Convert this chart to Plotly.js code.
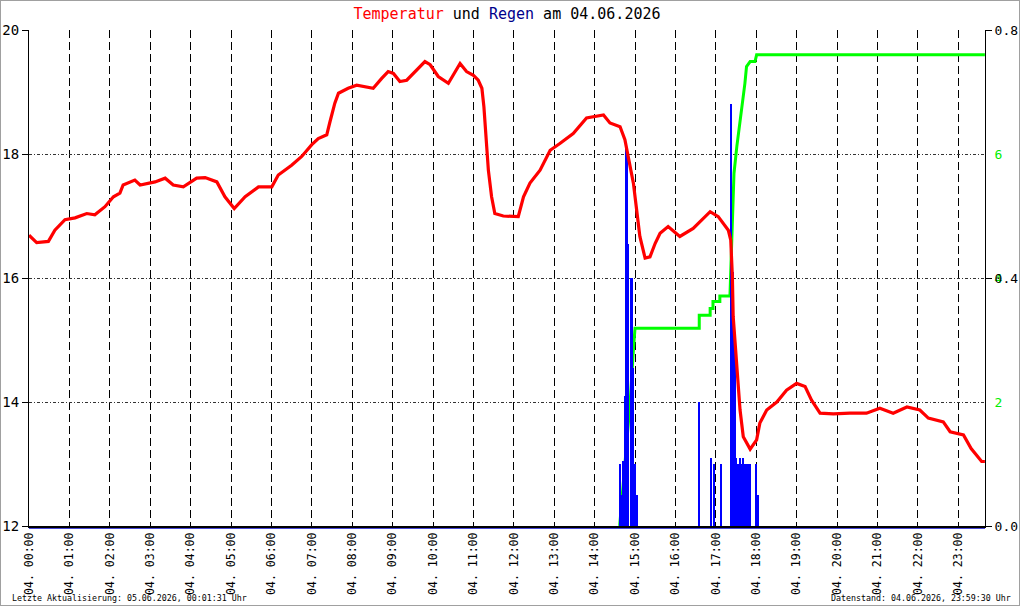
<!DOCTYPE html>
<html>
<head>
<meta charset="utf-8">
<script src="https://cdn.plot.ly/plotly-3.0.1.min.js"></script>
<style>
  html, body { margin: 0; padding: 0; background: #ffffff; }
  #frame { width: 1020px; height: 606px; box-sizing: border-box; border: 1px solid #a0a0a0; background: #ffffff; }
  #chart { width: 1018px; height: 604px; }
</style>
</head>
<body>
<div id="frame"><div id="chart"></div></div>
<script>
// ---- Data (hours of the day 04.06.2026) ----
const tempTime = [0.00,0.19,0.48,0.64,0.89,1.14,1.43,1.63,1.88,2.09,2.25,2.33,2.62,2.75,3.12,3.37,3.57,3.82,4.15,4.36,4.65,4.85,5.08,5.35,5.68,6.01,6.17,6.50,6.75,7.00,7.16,7.37,7.45,7.57,7.66,7.90,8.11,8.52,8.73,8.89,9.02,9.18,9.35,9.55,9.80,9.93,10.13,10.38,10.54,10.67,10.83,11.00,11.12,11.21,11.26,11.31,11.37,11.45,11.53,11.74,11.95,12.11,12.24,12.40,12.65,12.90,13.14,13.47,13.80,14.22,14.38,14.63,14.75,14.83,14.96,15.04,15.12,15.25,15.37,15.50,15.62,15.82,16.11,16.44,16.86,17.06,17.31,17.37,17.41,17.43,17.52,17.60,17.68,17.85,18.01,18.09,18.26,18.51,18.75,19.00,19.21,19.37,19.58,19.91,20.32,20.73,21.06,21.39,21.73,22.05,22.26,22.63,22.80,23.13,23.32,23.58,23.66];
const temperature = [16.69,16.57,16.59,16.77,16.94,16.97,17.04,17.02,17.15,17.31,17.37,17.50,17.58,17.50,17.55,17.61,17.50,17.47,17.61,17.62,17.55,17.31,17.12,17.31,17.47,17.47,17.66,17.82,17.96,18.15,18.25,18.31,18.52,18.82,18.98,19.06,19.11,19.06,19.22,19.33,19.30,19.17,19.19,19.33,19.49,19.44,19.25,19.14,19.33,19.46,19.33,19.27,19.19,19.06,18.76,18.28,17.74,17.31,17.04,17.00,16.99,16.99,17.31,17.53,17.74,18.06,18.17,18.33,18.58,18.63,18.50,18.44,18.23,17.96,17.53,17.10,16.67,16.32,16.34,16.56,16.72,16.83,16.67,16.80,17.07,16.99,16.77,16.61,16.02,15.38,14.57,13.87,13.44,13.24,13.39,13.66,13.87,14.00,14.19,14.30,14.25,14.03,13.82,13.81,13.82,13.82,13.90,13.82,13.92,13.87,13.74,13.68,13.52,13.47,13.25,13.04,13.04];

const rainTime = [14.625,14.666,14.707,14.749,14.790,14.830,14.913,14.954,14.996,15.037,16.584,16.889,16.960,17.136,17.384,17.426,17.468,17.507,17.550,17.592,17.631,17.673,17.715,17.755,17.797,17.839,17.995,18.035];
const rainAmount = [0.10,0.05,0.105,0.21,0.61,0.455,0.40,0.255,0.10,0.05,0.20,0.11,0.10,0.10,0.68,0.41,0.30,0.11,0.10,0.11,0.10,0.11,0.10,0.10,0.10,0.10,0.10,0.05];

const sumTime = [14.62,14.70,14.79,14.88,14.96,15.00,16.59,16.59,16.86,16.86,16.93,16.93,17.10,17.10,17.35,17.40,17.43,17.45,17.52,17.60,17.64,17.72,17.76,17.85,17.97,18.01,23.66];
const rainSum = [0.00,0.60,1.40,2.00,2.84,3.19,3.19,3.40,3.40,3.51,3.51,3.62,3.62,3.71,3.71,4.60,5.31,5.69,6.12,6.50,6.76,7.14,7.41,7.49,7.49,7.60,7.60];

const hourTicks = [0,1,2,3,4,5,6,7,8,9,10,11,12,13,14,15,16,17,18,19,20,21,22,23];
const hourLabels = ["04. 00:00","04. 01:00","04. 02:00","04. 03:00","04. 04:00","04. 05:00","04. 06:00","04. 07:00","04. 08:00","04. 09:00","04. 10:00","04. 11:00","04. 12:00","04. 13:00","04. 14:00","04. 15:00","04. 16:00","04. 17:00","04. 18:00","04. 19:00","04. 20:00","04. 21:00","04. 22:00","04. 23:00"];
const tempTicks = [12,14,16,18,20];
const rainTicks = [0,0.4,0.8];
const rainTickText = ["0.0","0.4","0.8"];
const sumTicks = [2,4,6];

const FONT = '"DejaVu Sans Mono", "Liberation Mono", monospace';

const traces = [
  { // cumulative rain (green) on base axis y
    x: sumTime, y: rainSum, type: 'scatter', mode: 'lines',
    line: { color: '#00ff00', width: 3 }, xaxis: 'x', yaxis: 'y', hoverinfo: 'skip'
  },
  { // rain per interval (blue bars)
    x: rainTime, y: rainAmount, type: 'bar', width: 0.056,
    marker: { color: '#0000ff', line: { width: 0 } }, xaxis: 'x', yaxis: 'y2', hoverinfo: 'skip'
  },
  { // temperature (red)
    x: tempTime, y: temperature, type: 'scatter', mode: 'lines',
    line: { color: '#ff0000', width: 3.2 }, xaxis: 'x', yaxis: 'y3', hoverinfo: 'skip'
  }
];

const layout = {
  width: 1018, height: 604,
  margin: { l: 28, r: 34, t: 29, b: 79, pad: 0 },
  paper_bgcolor: '#ffffff', plot_bgcolor: '#ffffff',
  showlegend: false,
  font: { family: FONT, color: '#000000', size: 13 },
  title: {
    text: '<span style="color:#ff0000">Temperatur</span> und <span style="color:#00008b">Regen</span> am 04.06.2026',
    font: { family: FONT, size: 15, color: '#000000' },
    x: 0.5, xanchor: 'center', xref: 'paper',
    y: 1 - 13/604, yanchor: 'middle', yref: 'container'
  },
  bargap: 0,
  xaxis: {
    range: [0, 23.663], fixedrange: true,
    tickmode: 'array', tickvals: hourTicks, ticktext: hourLabels,
    tickangle: -90, tickfont: { family: FONT, size: 11.5, color: '#000000' },
    ticks: '', showgrid: true, gridcolor: '#000000', gridwidth: 1, griddash: '8px,4px',
    showline: true, linecolor: '#000000', linewidth: 2, zeroline: false, mirror: false
  },
  yaxis: { // cumulative rain scale (green labels)
    range: [0, 8], side: 'right', anchor: 'x', fixedrange: true,
    tickmode: 'array', tickvals: sumTicks,
    tickfont: { family: FONT, size: 13, color: '#00ee00' },
    ticks: 'outside', ticklen: 6, tickcolor: 'rgba(0,0,0,0)',
    showgrid: false, showline: false, zeroline: false
  },
  yaxis2: { // rain per interval (black labels right)
    range: [0, 0.8], side: 'right', overlaying: 'y', anchor: 'x', fixedrange: true,
    tickmode: 'array', tickvals: rainTicks, ticktext: rainTickText,
    tickfont: { family: FONT, size: 13, color: '#000000' },
    ticks: 'outside', ticklen: 6, tickcolor: '#000000', tickwidth: 1,
    showgrid: false, showline: true, linecolor: '#000000', linewidth: 1, zeroline: false
  },
  yaxis3: { // temperature (left)
    range: [12, 20], side: 'left', overlaying: 'y', anchor: 'x', fixedrange: true,
    tickmode: 'array', tickvals: tempTicks,
    tickfont: { family: FONT, size: 14, color: '#000000' },
    ticks: 'outside', ticklen: 6, tickcolor: '#000000', tickwidth: 1,
    showgrid: true, gridcolor: '#333333', gridwidth: 1, griddash: '3px,2px,1px,2px',
    showline: true, linecolor: '#000000', linewidth: 1, zeroline: false
  },
  shapes: [
    { type: 'line', xref: 'paper', yref: 'paper', x0: 0, x1: 1, y0: -0.0045, y1: -0.0045,
      line: { color: '#0000cc', width: 1 }, layer: 'below' }
  ],
  annotations: [
    { text: 'Letzte Aktualisierung: 05.06.2026, 00:01:31 Uhr', xref: 'paper', yref: 'paper',
      x: (9 - 28) / 956, y: (526 - 598) / 496, xanchor: 'left', yanchor: 'middle', showarrow: false,
      font: { family: FONT, size: 8.3, color: '#000000' } },
    { text: 'Datenstand: 04.06.2026, 23:59:30 Uhr', xref: 'paper', yref: 'paper',
      x: (1012 - 28) / 956, y: (526 - 598) / 496, xanchor: 'right', yanchor: 'middle', showarrow: false,
      font: { family: FONT, size: 8.3, color: '#000000' } }
  ]
};

Plotly.newPlot('chart', traces, layout, { staticPlot: true, displayModeBar: false });
</script>
</body>
</html>
